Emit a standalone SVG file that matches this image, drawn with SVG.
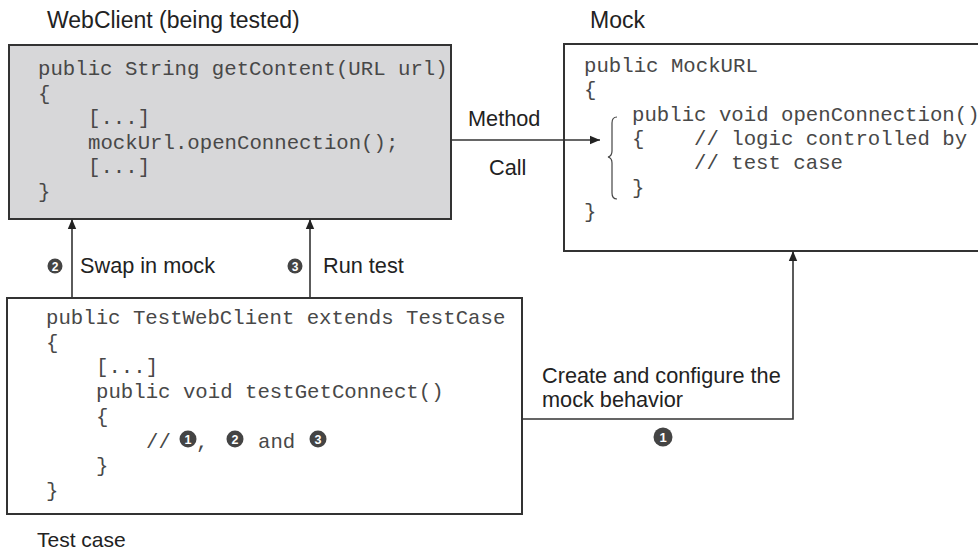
<svg xmlns="http://www.w3.org/2000/svg" width="978" height="552" viewBox="0 0 978 552">
<style>
.box{stroke:#333;stroke-width:2}
.code{font-family:"Liberation Mono","Courier New",monospace;font-size:20.7px;fill:#484848}
.lbl{font-family:"Liberation Sans",Arial,sans-serif;font-size:21.7px;fill:#222}
.ttl{font-family:"Liberation Sans",Arial,sans-serif;font-size:23px;fill:#222}
.con{stroke:#333;stroke-width:1.6;fill:none}
.bul{fill:#444}
.num{font-family:"Liberation Sans",Arial,sans-serif;font-weight:bold;fill:#fff;text-anchor:middle}
</style>
<defs>
<marker id="ah" markerUnits="userSpaceOnUse" markerWidth="10" markerHeight="10" viewBox="0 0 10 10" refX="10" refY="5" orient="auto">
<path d="M0,0.8 L10,5 L0,9.2 Z" fill="#222"/>
</marker>
</defs>
<rect width="978" height="552" fill="#fff"/>

<g id="node-webclient">
<text class="ttl" x="47" y="28">WebClient (being tested)</text>
<rect class="box" x="9" y="45" width="442" height="174" fill="#d7d7d9"/>
<text class="code" x="38" y="75">public String getContent(URL url)</text>
<text class="code" x="38" y="99.5">{</text>
<text class="code" x="88" y="124">[...]</text>
<text class="code" x="88" y="148.5">mockUrl.openConnection();</text>
<text class="code" x="88" y="173">[...]</text>
<text class="code" x="38" y="197.5">}</text>
</g>

<g id="node-mock">
<text class="ttl" x="590" y="28">Mock</text>
<rect class="box" x="564" y="44" width="430" height="207" fill="#fff"/>
<text class="code" x="584" y="72">public MockURL</text>
<text class="code" x="584" y="96">{</text>
<text class="code" x="632" y="120.5">public void openConnection()</text>
<text class="code" x="632" y="145">{</text>
<text class="code" x="694" y="145">// logic controlled by</text>
<text class="code" x="694" y="169">// test case</text>
<text class="code" x="632" y="193.5">}</text>
<text class="code" x="584" y="218">}</text>
<path d="M617,117 Q612,117 612,123 L612,151 Q612,156 608,157 Q612,158 612,163 L612,193 Q612,199 617,199" fill="none" stroke="#444" stroke-width="1.2"/>
</g>

<g id="node-testcase">
<rect class="box" x="7" y="298" width="515" height="216" fill="#fff"/>
<text class="code" x="46" y="324">public TestWebClient extends TestCase</text>
<text class="code" x="46" y="348.7">{</text>
<text class="code" x="96" y="373.4">[...]</text>
<text class="code" x="96" y="398">public void testGetConnect()</text>
<text class="code" x="96" y="422.8">{</text>
<text class="code" x="146" y="447.5">//</text>
<circle class="bul" cx="188" cy="439" r="8.5"/>
<text class="num" x="188" y="443.5" font-size="12.5">1</text>
<text class="code" x="196" y="447.5">,</text>
<circle class="bul" cx="235" cy="439" r="8.5"/>
<text class="num" x="235" y="443.5" font-size="12.5">2</text>
<text class="code" x="258" y="447.5">and</text>
<circle class="bul" cx="318" cy="439" r="8.5"/>
<text class="num" x="318" y="443.5" font-size="12.5">3</text>
<text class="code" x="96" y="472">}</text>
<text class="code" x="46" y="497">}</text>
<text class="ttl" x="37" y="547" style="font-size:21px">Test case</text>
</g>

<g id="connectors">
<line class="con" x1="451" y1="140" x2="600" y2="140" marker-end="url(#ah)"/>
<line class="con" x1="72" y1="298" x2="72" y2="219" marker-end="url(#ah)"/>
<line class="con" x1="310" y1="298" x2="310" y2="219" marker-end="url(#ah)"/>
<polyline class="con" points="522,419 793,419 793,251" marker-end="url(#ah)"/>
</g>

<g id="labels">
<text class="lbl" x="468" y="126">Method</text>
<text class="lbl" x="489" y="175">Call</text>
<circle class="bul" cx="55" cy="266" r="7.5"/>
<text class="num" x="55" y="270.5" font-size="12">2</text>
<text class="lbl" x="80" y="273">Swap in mock</text>
<circle class="bul" cx="295" cy="266" r="7.5"/>
<text class="num" x="295" y="270.5" font-size="12">3</text>
<text class="lbl" x="323" y="273">Run test</text>
<text class="lbl" x="542" y="383">Create and configure the</text>
<text class="lbl" x="542" y="407">mock behavior</text>
<circle class="bul" cx="663" cy="437" r="9.5"/>
<text class="num" x="663" y="442" font-size="13">1</text>
</g>
</svg>
